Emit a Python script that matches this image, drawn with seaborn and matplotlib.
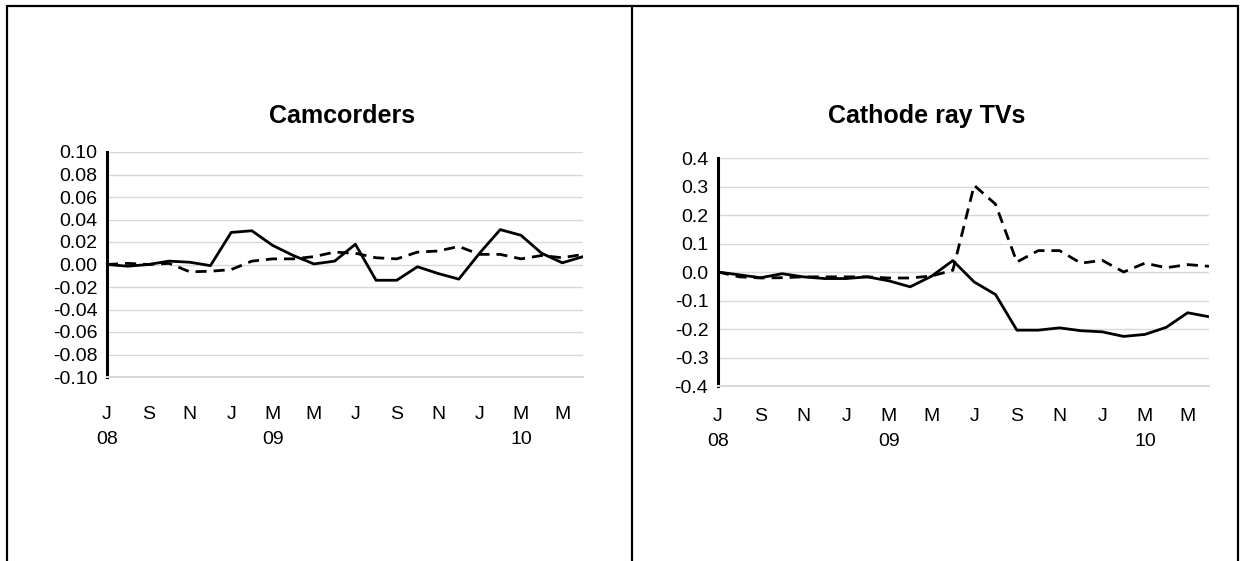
import numpy as np
import pandas as pd
import matplotlib
matplotlib.use("Agg")
import matplotlib.pyplot as plt
import seaborn as sns
from matplotlib.lines import Line2D

# monthly data, Jul 2008 - Jun 2010
month_labels = ["J\n08", "", "S", "", "N", "", "J", "", "M\n09", "", "M", "",
                "J", "", "S", "", "N", "", "J", "", "M\n10", "", "M", ""]

camcorders_solid = [0.000, -0.0015, 0.000, 0.003, 0.002, -0.001, 0.0285, 0.030,
                    0.017, 0.008, 0.0005, 0.003, 0.018, -0.014, -0.014, -0.002,
                    -0.008, -0.013, 0.010, 0.031, 0.026, 0.010, 0.0015, 0.007]
camcorders_dashed = [0.000, 0.001, 0.000, 0.001, -0.0065, -0.006, -0.0045, 0.003,
                     0.005, 0.005, 0.007, 0.011, 0.010, 0.006, 0.005, 0.011,
                     0.012, 0.016, 0.009, 0.009, 0.005, 0.008, 0.006, 0.009]

crt_solid = [0.000, -0.010, -0.020, -0.006, -0.017, -0.023, -0.023, -0.017,
             -0.031, -0.052, -0.015, 0.040, -0.035, -0.079, -0.204, -0.204,
             -0.196, -0.206, -0.210, -0.226, -0.219, -0.194, -0.143, -0.157]
crt_dashed = [0.000, -0.017, -0.021, -0.020, -0.017, -0.017, -0.017, -0.017,
              -0.021, -0.021, -0.014, 0.006, 0.304, 0.238, 0.035, 0.075,
              0.075, 0.031, 0.041, 0.000, 0.031, 0.015, 0.026, 0.020]

sns.set_theme(style="white")
plt.rcParams['font.family'] = ['Liberation Sans', 'DejaVu Sans']

W, H = 1240, 561
fig = plt.figure(figsize=(W / 100, H / 100), dpi=100)


def px_axes(x0, y0, x1, y1):
    # pixel box (from top-left) -> figure axes
    return fig.add_axes([x0 / W, 1 - y1 / H, (x1 - x0) / W, (y1 - y0) / H])


def draw_panel(ax, solid, dashed, ylim, yticks, fmt, title, title_x, xpad):
    x = np.arange(len(solid))
    df = pd.DataFrame({"x": x, "solid": solid, "dashed": dashed})
    sns.lineplot(data=df, x="x", y="solid", ax=ax, color="black", lw=2)
    sns.lineplot(data=df, x="x", y="dashed", ax=ax, color="black", lw=2,
                 dashes=False, linestyle=(0, (4, 2.5)))
    ax.set_xlim(0, len(solid) - 1)
    ax.set_ylim(*ylim)
    ax.set_yticks(yticks)
    ax.set_yticklabels([fmt.format(v) if abs(v) > 1e-9 else fmt.format(0.0)
                        for v in yticks], fontsize=14)
    ax.set_xticks(x)
    ax.set_xticklabels(month_labels, fontsize=14, linespacing=1.6)
    ax.grid(axis="y", color="#D9D9D9", lw=1)
    ax.set_axisbelow(True)
    for s in ["top", "right"]:
        ax.spines[s].set_visible(False)
    ax.spines["left"].set_color("black")
    ax.spines["left"].set_linewidth(2.2)
    ax.spines["bottom"].set_color("#D9D9D9")
    ax.spines["bottom"].set_linewidth(1.5)
    ax.tick_params(axis="x", which="major", direction="out", length=4,
                   width=1, color="#D9D9D9", pad=xpad, labelcolor="black")
    ax.tick_params(axis="y", length=0, pad=7, labelcolor="black")
    ax.set_xlabel("")
    ax.set_ylabel("")
    fig.text(title_x / W, 1 - 123 / H, title, ha="center", va="baseline",
             fontsize=18, fontweight="bold", color="black")


ax1 = px_axes(107, 152, 583, 377)
draw_panel(ax1, camcorders_solid, camcorders_dashed, (-0.10, 0.10),
           np.round(np.arange(-0.10, 0.101, 0.02), 2), "{:.2f}",
           "Camcorders", 342, 17)

ax2 = px_axes(718, 158, 1209, 386)
draw_panel(ax2, crt_solid, crt_dashed, (-0.4, 0.4),
           np.round(np.arange(-0.4, 0.401, 0.1), 1), "{:.1f}",
           "Cathode ray TVs", 927, 12)

# outer frame lines
for (xa, ya, xb, yb) in [(6.5, 5.5, 1237.5, 5.5), (6.5, 5.5, 6.5, H),
                         (632, 5.5, 632, H), (1237.5, 5.5, 1237.5, H)]:
    fig.add_artist(Line2D([xa / W, xb / W], [1 - ya / H, 1 - yb / H],
                          color="black", lw=1.6, transform=fig.transFigure))

fig.savefig("out.png", dpi=100)
